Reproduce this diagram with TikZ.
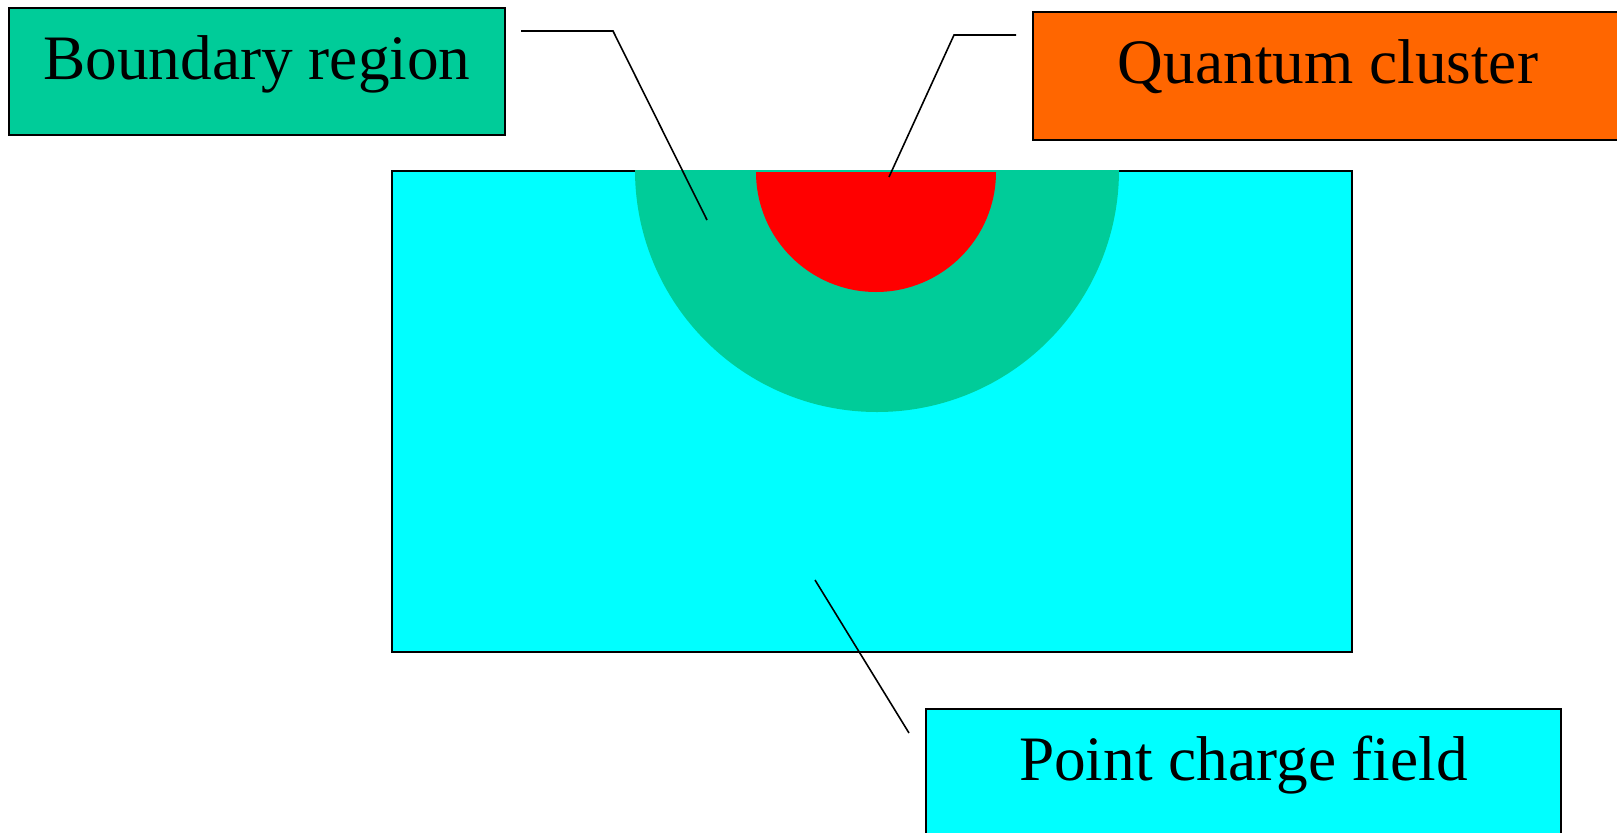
\documentclass[tikz,border=0pt]{standalone}
\usepackage{fontspec}
\setmainfont{Liberation Serif}
\definecolor{bndgreen}{RGB}{0,204,153}
\definecolor{qmorange}{RGB}{255,102,0}
\definecolor{pcfcyan}{RGB}{0,255,255}
\definecolor{qmred}{RGB}{255,0,0}

\begin{document}
\begin{tikzpicture}[x=0.01cm,y=-0.01cm,
  labelbox/.style={draw=black,line width=0.45pt,inner sep=0pt,anchor=north west,
    font=\fontsize{18}{22}\selectfont},
  leader/.style={draw=black,line width=0.45pt}]
\useasboundingbox (0,0) rectangle (1617,833);
% point charge field with the two regions cut into its top edge
\filldraw[fill=pcfcyan,line width=0.45pt] (392,171) rectangle (1352,652);
\fill[bndgreen] (635,170) arc (180:0:242) -- cycle;
\fill[qmred] (756,172) arc (180:0:120) -- cycle;
% labels
\node[labelbox,fill=bndgreen,minimum width=4.96cm,text height=0.72cm,text depth=0.55cm]
  (bnd) at (8,7) {Boundary region};
\node[labelbox,fill=qmorange,minimum width=5.9cm,text height=0.72cm,text depth=0.56cm]
  (qmc) at (1032,11) {Quantum cluster};
\node[labelbox,fill=pcfcyan,minimum width=6.35cm,text height=0.72cm,text depth=0.56cm]
  (pcf) at (925,708) {Point charge field};
% leader lines
\coordinate (bndA) at (521,31);
\coordinate (bndB) at (613,31);
\coordinate (bndC) at (707,220);
\coordinate (qmcA) at (1016,35);
\coordinate (qmcB) at (954,35);
\coordinate (qmcC) at (889,177);
\coordinate (pcfA) at (815,580);
\coordinate (pcfB) at (909,733);
\draw[leader] (bndA) -- (bndB) -- (bndC);
\draw[leader] (qmcA) -- (qmcB) -- (qmcC);
\draw[leader] (pcfA) -- (pcfB);
\end{tikzpicture}
\end{document}
